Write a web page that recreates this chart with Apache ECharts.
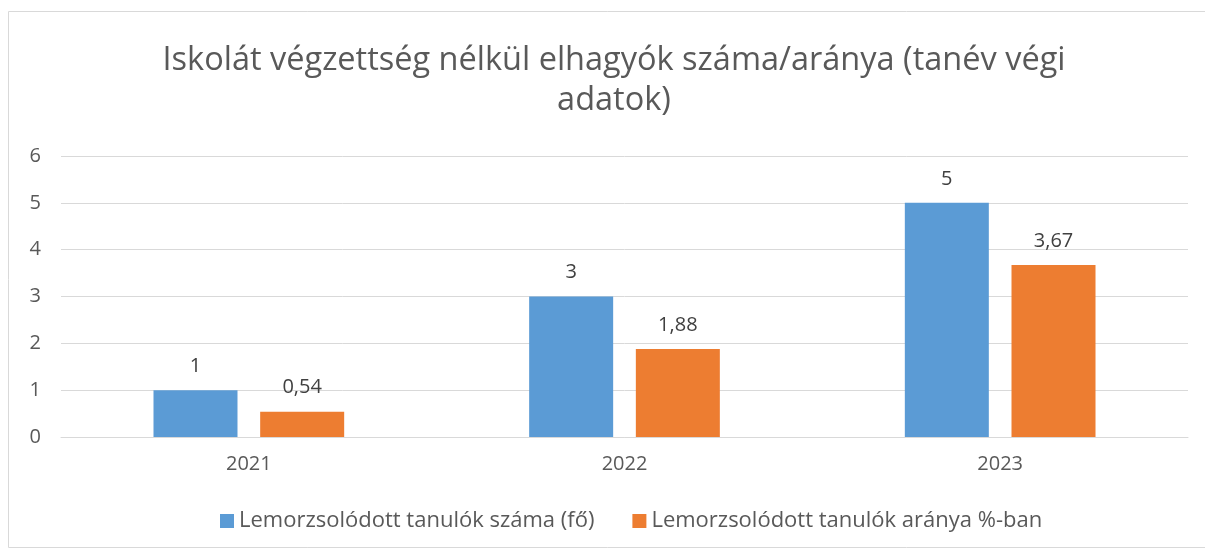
<!DOCTYPE html>
<html>
<head>
<meta charset="utf-8">
<script src="https://cdn.jsdelivr.net/npm/echarts@6/dist/echarts.min.js"></script>
<style>
  html, body { margin: 0; padding: 0; background: #fff; }
  #chart { width: 1205px; height: 552px; }
</style>
</head>
<body>
<div id="chart"></div>
<script>
const years = ["2021", "2022", "2023"];
const countValues = [1, 3, 5];
const rateValues = [0.54, 1.88, 3.67];
const seriesNames = ["Lemorzsolódott tanulók száma (fő)", "Lemorzsolódott tanulók aránya %-ban"];

const font = "'Open Sans', 'Noto Sans', sans-serif";
const fmt = (p) => String(p.value).replace(".", ",");

const chart = echarts.init(document.getElementById("chart"));
chart.setOption({
  animation: false,
  textStyle: { fontFamily: font },
  graphic: [
    {
      type: "rect",
      shape: { x: 8.5, y: 11.5, width: 1210, height: 536 },
      style: { fill: "none", stroke: "#d9d9d9", lineWidth: 1 },
      silent: true
    }
  ],
  title: {
    text: "Iskolát végzettség nélkül elhagyók száma/aránya (tanév végi\nadatok)",
    left: 609,
    textAlign: "center",
    top: 36,
    textStyle: {
      fontFamily: font,
      fontSize: 32.5,
      fontWeight: "normal",
      color: "#595959",
      lineHeight: 40
    }
  },
  legend: {
    bottom: 15,
    left: 215,
    itemWidth: 14,
    itemHeight: 14,
    itemGap: 38,
    icon: "rect",
    textStyle: { fontSize: 22, color: "#595959", fontFamily: font },
    data: seriesNames
  },
  grid: { left: 61, right: 17, top: 156, bottom: 115 },
  xAxis: {
    type: "category",
    data: years,
    axisLine: { lineStyle: { color: "#d9d9d9" } },
    axisTick: { show: false },
    axisLabel: { fontSize: 20, color: "#595959", margin: 17 }
  },
  yAxis: {
    type: "value",
    min: 0,
    max: 6,
    interval: 1,
    axisLine: { show: false },
    axisTick: { show: false },
    splitLine: { lineStyle: { color: "#d9d9d9" } },
    axisLabel: { fontSize: 20, color: "#595959", margin: 20 }
  },
  series: [
    {
      name: seriesNames[0],
      type: "bar",
      data: countValues,
      barWidth: 84,
      barGap: "27%",
      itemStyle: { color: "#5b9bd5" },
      label: { show: true, position: "top", distance: 14, fontSize: 20, color: "#404040", formatter: fmt }
    },
    {
      name: seriesNames[1],
      type: "bar",
      data: rateValues,
      barWidth: 84,
      itemStyle: { color: "#ed7d31" },
      label: { show: true, position: "top", distance: 14, fontSize: 20, color: "#404040", formatter: fmt }
    }
  ]
});
</script>
</body>
</html>
